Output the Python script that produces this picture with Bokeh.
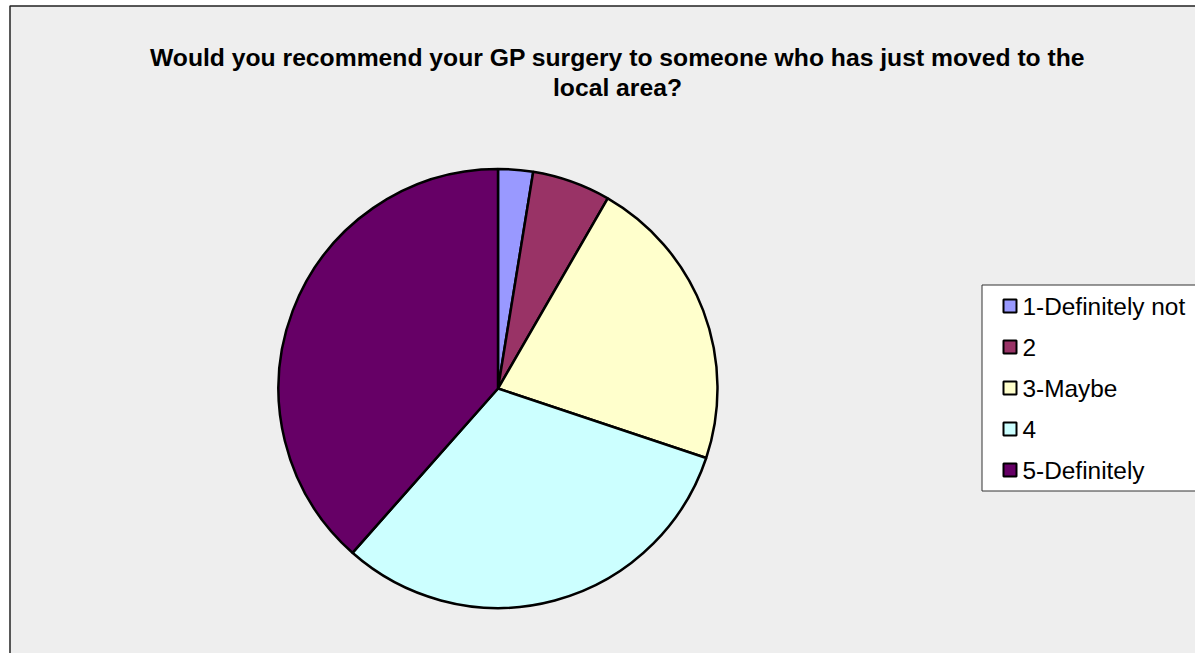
import numpy as np
from bokeh.plotting import figure
from bokeh.models import Range1d, ColumnDataSource
from bokeh.embed import file_html
from bokeh.resources import INLINE
from bokeh.core.properties import value

# ---- data ----
categories = ["1-Definitely not", "2", "3-Maybe", "4", "5-Definitely"]
counts = [4, 9, 34, 49, 60]
colors = ["#9999FF", "#993366", "#FFFFCC", "#CCFFFF", "#660066"]
title_lines = ["Would you recommend your GP surgery to someone who has just moved to the",
               "local area?"]

# ---- layout (data units == screen pixels, y negated) ----
W, H = 1195, 653
BG = "#EEEEEE"
FONT = "Liberation Sans"

p = figure(width=W, height=H,
           x_range=Range1d(0, W), y_range=Range1d(-H, 0),
           output_backend="svg", toolbar_location=None, min_border=0,
           x_axis_location=None, y_axis_location=None)
p.grid.visible = False
p.background_fill_color = "white"
p.border_fill_color = "white"
p.outline_line_color = None

# chart area with border
p.quad(left=9.5, right=1400, top=-5.5, bottom=-900,
       fill_color=BG, line_color="#222222", line_width=1.5)

# ---- pie ----
vals = np.array(counts, dtype=float)
frac = vals / vals.sum()
cum = np.concatenate([[0.0], np.cumsum(frac)])
start = np.pi / 2 - cum[:-1] * 2 * np.pi
end = np.pi / 2 - cum[1:] * 2 * np.pi
cx, cy, r = 497.5, -388.0, 219.5
src = ColumnDataSource(dict(cat=categories, start=start, end=end, color=colors))
p.wedge(x=cx, y=cy, radius=r, radius_units="screen",
        start_angle="start", end_angle="end", direction="clock",
        fill_color="color", line_color="black", line_width=2.5, source=src)

# ---- title ----
tx = 617
p.text(x=[tx, tx], y=[-57, -87], text=title_lines,
       text_align="center", text_baseline="alphabetic",
       text_font=value(FONT), text_font_style="bold",
       text_font_size="24.7px", text_color="black")

# ---- legend ----
p.quad(left=981.5, right=1400, top=-284.5, bottom=-490.5,
       fill_color="white", line_color="#333333", line_width=1)
ly = [-(305.5 + i * 41) for i in range(len(categories))]
lsrc = ColumnDataSource(dict(y=ly, cat=categories, color=colors))
p.scatter(x=1009.5, y="y", marker="square", size=13, fill_color="color",
          line_color="black", line_width=2, source=lsrc)
p.text(x=1022, y="y", text="cat", text_align="left", text_baseline="middle",
       text_font=value(FONT), text_font_size="24.4px", text_color="black", source=lsrc)

open("out.html", "w").write(file_html(p, INLINE))
